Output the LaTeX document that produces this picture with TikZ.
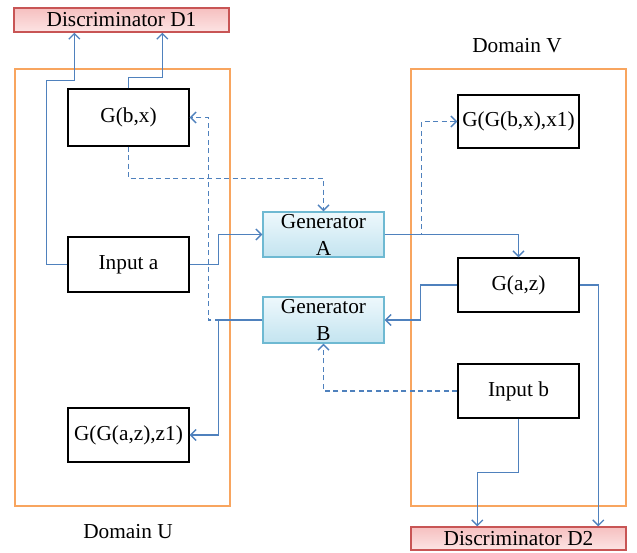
\documentclass[tikz,border=0pt]{standalone}
\usepackage{fontspec}
\setmainfont{Liberation Serif}
\usetikzlibrary{arrows.meta,calc}
\definecolor{linecol}{RGB}{79,129,189}
\definecolor{domcol}{RGB}{248,165,95}
\definecolor{gendraw}{RGB}{110,185,210}
\definecolor{gentop}{RGB}{238,248,252}
\definecolor{genbot}{RGB}{195,228,240}
\definecolor{discdraw}{RGB}{200,85,85}
\definecolor{disctop}{RGB}{246,192,192}
\definecolor{discbot}{RGB}{252,228,228}
\newcommand{\myfs}{\fontsize{21.3}{27}\selectfont}
\tikzset{
  box/.style={draw=black, line width=1.4pt, fill=white, minimum width=121pt, inner sep=0pt, font=\myfs},
  genbox/.style={draw=gendraw, line width=1.4pt, top color=gentop, bottom color=genbot, minimum width=121pt, minimum height=45pt, inner sep=0pt, align=center, font=\myfs},
  discbox/.style={draw=discdraw, line width=1.4pt, top color=disctop, bottom color=discbot, minimum width=215pt, minimum height=24pt, inner sep=0pt, font=\myfs},
  dombox/.style={draw=domcol, line width=1.5pt, minimum width=215pt, minimum height=437pt, inner sep=0pt},
  lbl/.style={font=\myfs, inner sep=0pt},
  conn/.style={draw=linecol, line width=1.3pt, -{Straight Barb[length=5.5pt,width=11pt]}},
  dconn/.style={conn, dash pattern=on 5pt off 3.5pt},
}
\begin{document}
\begin{tikzpicture}[x=1pt,y=-1pt]
\useasboundingbox (0,0) rectangle (637,552);
% domains
\node[dombox] (domU) at (122.5,287.5) {};
\node[dombox] (domV) at (518.5,287.5) {};
\node[lbl] (labV) at (517,46) {Domain V};
\node[lbl] (labU) at (128,532) {Domain U};
% discriminators
\node[discbox] (d1) at (121.5,20) {Discriminator D1};
\node[discbox, minimum height=23pt] (d2) at (518.5,538.5) {Discriminator D2};
% left boxes
\node[box, minimum height=57pt] (gbx) at (128.5,117.5) {G(b,x)};
\node[box, minimum height=55pt] (ina) at (128.5,264.5) {Input a};
\node[box, minimum height=54pt] (ggaz) at (128.5,435) {G(G(a,z),z1)};
% right boxes
\node[box, minimum height=53pt] (ggbx) at (518.5,121.5) {G(G(b,x),x1)};
\node[box, minimum height=54pt] (gaz) at (518.5,285) {G(a,z)};
\node[box, minimum height=54pt] (inb) at (518.5,391) {Input b};
% generators
\node[genbox] (gena) at (323.5,234.5) {Generator\\A};
\node[genbox, minimum height=46pt] (genb) at (323.5,320) {Generator\\B};
% connectors
\coordinate (d1a) at ($(d1.south west)+(61,0)$);
\coordinate (d1b) at ($(d1.south west)+(149,0)$);
\coordinate (d2a) at ($(d2.north west)+(67,0)$);
\coordinate (d2b) at ($(d2.north west)+(188,0)$);
\draw[conn] (ina.west) -- ++(-21,0) |- ($(d1a)+(0,48)$) -- (d1a);
\draw[conn] (gbx.north) -- ++(0,-11) -| (d1b);
\draw[conn] (ina.east) -- ++(29,0) |- (gena.west);
\draw[conn] (gena.east) -| (gaz.north);
\draw[dconn] (gena.east) -- ++(37,0) |- (ggbx.west);
\draw[dconn] (gbx.south) -- ++(0,32) -| (gena.north);
\draw[dconn] (genb.west) -- ++(-54,0) |- (gbx.east);
\draw[conn] (genb.west) -- ++(-44,0) |- (ggaz.east);
\draw[conn] (gaz.west) -- ++(-37,0) |- (genb.east);
\draw[dconn] (inb.west) -| (genb.south);
\draw[conn] (gaz.east) -| (d2b);
\draw[conn] (inb.south) -- ++(0,54) -| (d2a);
\end{tikzpicture}
\end{document}
